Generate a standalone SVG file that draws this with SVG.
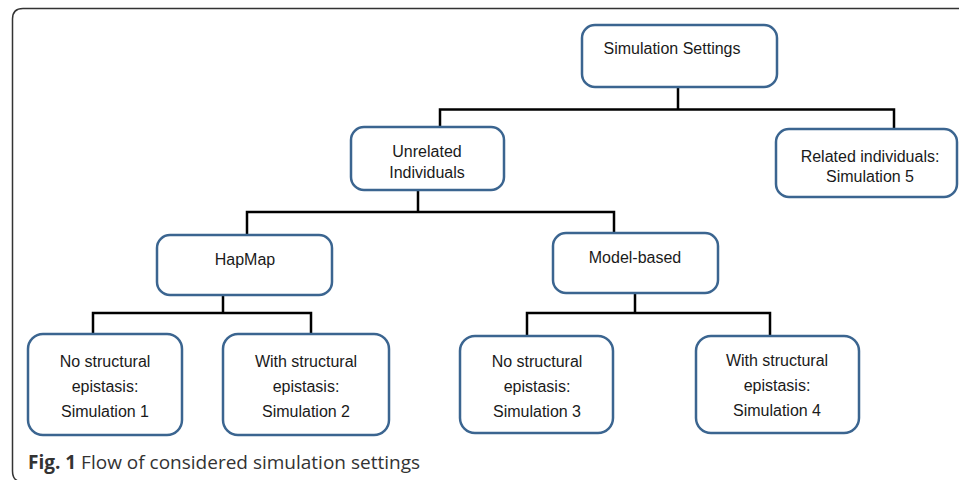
<svg xmlns="http://www.w3.org/2000/svg" width="959" height="480" viewBox="0 0 959 480">
<style>
.box{fill:#fff;stroke:#3b6590;stroke-width:2.5}
.t{font-family:"Liberation Sans",Arial,sans-serif;font-size:16px;fill:#1a1a1a;text-anchor:middle}
.c{fill:none;stroke:#000;stroke-width:2.5}
.cap{font-family:"Open Sans",sans-serif;font-size:19px;fill:#333}
</style>
<rect width="959" height="480" fill="#fff"/>
<path d="M959 8.5H23Q12.5 8.5 12.5 19V471Q12.5 479 18 481" fill="none" stroke="#333" stroke-width="1.5"/>
<g id="connectors">
<path class="c" d="M678 87V110M440 127V109.5H894V128"/>
<path class="c" d="M418 190V212M247 235V212H614V233"/>
<path class="c" d="M223 295V313M93 334V313H311V334"/>
<path class="c" d="M635 293V313M527 336V313H770V336"/>
</g>
<g id="n-settings"><rect class="box" x="582" y="25" width="195" height="62" rx="13"/><text class="t" x="672" y="54">Simulation Settings</text></g>
<g id="n-unrelated"><rect class="box" x="351" y="127" width="153" height="63" rx="13"/><text class="t" x="427" y="157">Unrelated</text><text class="t" x="427" y="178">Individuals</text></g>
<g id="n-related"><rect class="box" x="776" y="129" width="181" height="68" rx="13"/><text class="t" x="870" y="162">Related individuals:</text><text class="t" x="870" y="182">Simulation 5</text></g>
<g id="n-hapmap"><rect class="box" x="157" y="235" width="175" height="60" rx="13"/><text class="t" x="245" y="265">HapMap</text></g>
<g id="n-model"><rect class="box" x="553" y="233" width="165" height="60" rx="13"/><text class="t" x="635" y="263">Model-based</text></g>
<g id="n-sim1"><rect class="box" x="28" y="334" width="154" height="101" rx="15"/><text class="t" x="105" y="367">No structural</text><text class="t" x="105" y="392">epistasis:</text><text class="t" x="105" y="417">Simulation 1</text></g>
<g id="n-sim2"><rect class="box" x="223" y="334" width="166" height="101" rx="15"/><text class="t" x="306" y="367">With structural</text><text class="t" x="306" y="392">epistasis:</text><text class="t" x="306" y="417">Simulation 2</text></g>
<g id="n-sim3"><rect class="box" x="460" y="336" width="153" height="97" rx="15"/><text class="t" x="537" y="367">No structural</text><text class="t" x="537" y="392">epistasis:</text><text class="t" x="537" y="417">Simulation 3</text></g>
<g id="n-sim4"><rect class="box" x="696" y="336" width="163" height="97" rx="15"/><text class="t" x="777" y="366">With structural</text><text class="t" x="777" y="391">epistasis:</text><text class="t" x="777" y="416">Simulation 4</text></g>
<text class="cap" x="28" y="469"><tspan font-weight="bold">Fig. 1</tspan> Flow of considered simulation settings</text>
</svg>
